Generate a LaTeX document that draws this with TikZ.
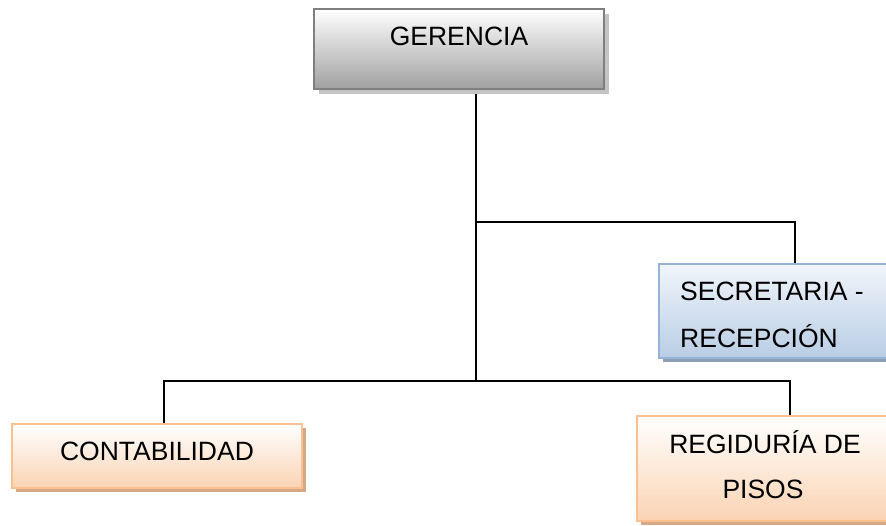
\documentclass[tikz,border=0pt]{standalone}
\usepackage{fontspec}
\setmainfont{Liberation Sans}
\usetikzlibrary{shadows}
\pgfdeclarelayer{background}
\pgfsetlayers{background,main}
\definecolor{gerMid}{HTML}{D6D6D6}
\definecolor{gerBot}{HTML}{A0A0A0}
\definecolor{gerLine}{HTML}{7F7F7F}
\definecolor{gerShadow}{HTML}{C4C4C4}
\definecolor{bluTop}{HTML}{F0F5FB}
\definecolor{bluBot}{HTML}{B9CDE5}
\definecolor{bluLine}{HTML}{95B3D7}
\definecolor{bluShadow}{HTML}{8E9DB3}
\definecolor{oraBot}{HTML}{FAD3B3}
\definecolor{oraLine}{HTML}{FAC090}
\definecolor{oraShadow}{HTML}{D5A886}
\tikzset{
  boxbase/.style={draw, line width=2.2pt, rectangle, inner sep=0pt},
  gerbox/.style={boxbase, draw=gerLine, top color=white, middle color=gerMid, bottom color=gerBot,
    drop shadow={shadow xshift=5pt, shadow yshift=-5pt, fill=gerShadow, opacity=1}},
  blubox/.style={boxbase, draw=bluLine, top color=bluTop, bottom color=bluBot,
    drop shadow={shadow xshift=4pt, shadow yshift=-4pt, fill=bluShadow, opacity=1}},
  orabox/.style={boxbase, draw=oraLine, top color=white, bottom color=oraBot,
    drop shadow={shadow xshift=4pt, shadow yshift=-4pt, fill=oraShadow, opacity=1}},
  lbl/.style={inner sep=0pt, font=\fontsize{26.5}{30}\selectfont},
  conn/.style={draw=black, line width=1.6pt}
}
\begin{document}
\begin{tikzpicture}[x=1pt,y=-1pt]
\path[use as bounding box] (0,0) rectangle (886,525);
\clip (0,0) rectangle (886,525);
% boxes
\node[gerbox, minimum width=290pt, minimum height=80pt] (ger) at (459,49) {};
\node[blubox, minimum width=240pt, minimum height=94pt] (sec) at (779,311) {};
\node[orabox, minimum width=290pt, minimum height=64pt] (con) at (157,456) {};
\node[orabox, minimum width=260pt, minimum height=105pt] (reg) at (767,468.5) {};
% junctions
\coordinate (jtop) at (476,222);
\coordinate (jbot) at (476,381);
% connectors
\begin{pgfonlayer}{background}
\fill[white] (0,0) rectangle (886,525);
\draw[conn] ([xshift=17pt]ger.south) -- (jbot);
\draw[conn] (jtop) -| ([xshift=16pt]sec.north);
\draw[conn] ([xshift=7pt]con.north) |- (jbot) -| ([xshift=23pt]reg.north);
\end{pgfonlayer}
% labels
\node[lbl, anchor=base] (tger) at (459,45) {GERENCIA};
\node[lbl, anchor=base west] (tsec1) at (680,300) {SECRETARIA -};
\node[lbl, anchor=base west] (tsec2) at (680,347) {RECEPCIÓN};
\node[lbl, anchor=base] (tcon) at (157,460) {CONTABILIDAD};
\node[lbl, anchor=base] (treg1) at (765,453) {REGIDURÍA DE};
\node[lbl, anchor=base] (treg2) at (763,498) {PISOS};
\end{tikzpicture}
\end{document}
